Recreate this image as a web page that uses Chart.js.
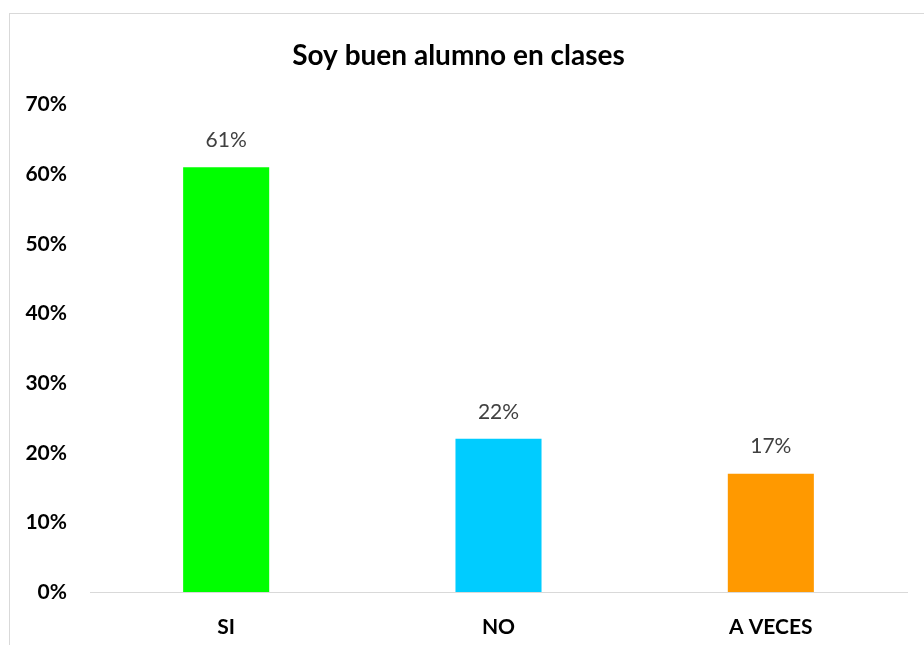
<!DOCTYPE html>
<html>
<head>
<meta charset="utf-8">
<script src="https://cdn.jsdelivr.net/npm/chart.js@4/dist/chart.umd.min.js"></script>
<style>
  body { margin: 0; background: #fff; overflow: hidden; }
  #marco { position: absolute; left: 9px; top: 13px; width: 915px; height: 632px;
           border-left: 1px solid #d9d9d9; border-top: 1px solid #d9d9d9; }
</style>
</head>
<body>
<div id="marco"><canvas id="myChart" width="915" height="632"></canvas></div>
<script>
const categorias = ['SI', 'NO', 'A VECES'];
const valores = [0.61, 0.22, 0.17];
const colores = ['#00ff00', '#00ccff', '#ff9900'];
const ticksY = [0, 0.1, 0.2, 0.3, 0.4, 0.5, 0.6, 0.7];

const etiquetas = {
    id: 'etiquetas',
    afterDatasetsDraw(chart) {
        const ctx = chart.ctx;
        const meta = chart.getDatasetMeta(0);
        ctx.save();
        ctx.font = '21px Lato';
        ctx.fillStyle = '#404040';
        ctx.textAlign = 'center';
        ctx.textBaseline = 'middle';
        meta.data.forEach(function (bar, i) {
            ctx.fillText(Math.round(valores[i] * 100) + '%', bar.x, bar.y - 27);
        });
        ctx.restore();
    }
};

const ctx = document.getElementById('myChart').getContext('2d');

const myChart = new Chart(ctx, {
    type: 'bar',
    data: {
        labels: categorias,
        datasets: [{
            data: valores,
            backgroundColor: colores,
            borderWidth: 0,
            categoryPercentage: 1,
            barPercentage: 0.316
        }]
    },
    options: {
        responsive: false,
        animation: false,
        layout: { padding: { left: 0, right: 18, top: 0, bottom: 0 } },
        plugins: {
            legend: { display: false },
            tooltip: { enabled: false },
            title: {
                display: true,
                text: 'Soy buen alumno en clases',
                color: '#000',
                font: { family: 'Lato', size: 28, weight: 'bold' },
                padding: { top: 25, bottom: 32 }
            }
        },
        scales: {
            x: {
                afterFit: function (scale) { scale.height = 54; },
                grid: { display: false },
                border: { display: true, color: '#d9d9d9', width: 1 },
                ticks: {
                    color: '#000',
                    font: { family: 'Lato', size: 21, weight: 'bold' },
                    padding: 15
                }
            },
            y: {
                min: 0,
                max: 0.7,
                afterFit: function (scale) { scale.width = 80; },
                afterBuildTicks: function (scale) {
                    scale.ticks = ticksY.map(function (v) { return { value: v }; });
                },
                grid: { display: false },
                border: { display: false },
                ticks: {
                    color: '#000',
                    padding: 15,
                    font: { family: 'Lato', size: 21, weight: 'bold' },
                    callback: function (v) { return Math.round(v * 100) + '%'; }
                }
            }
        }
    },
    plugins: [etiquetas]
});
</script>
</body>
</html>
